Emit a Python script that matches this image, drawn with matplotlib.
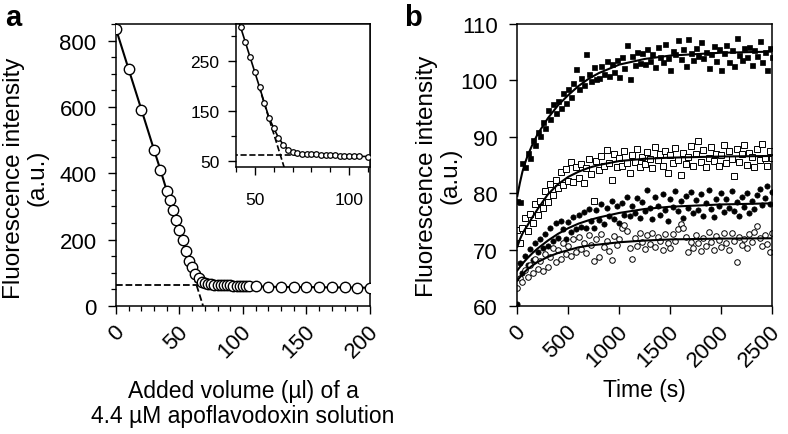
import numpy as np
import matplotlib
matplotlib.use('Agg')
import matplotlib.pyplot as plt
from matplotlib.ticker import MultipleLocator
from matplotlib.transforms import ScaledTranslation

plt.rcParams['font.family'] = ['Liberation Sans', 'DejaVu Sans']

# ---- panel a: titration with apoflavodoxin ----
vol = [0, 10, 20, 30, 35, 40,
       42.5, 45, 47.5, 50, 52.5, 55, 57.5, 60, 62.5, 65, 67.5, 70, 72.5, 75,
       77.5, 80, 82.5, 85, 87.5, 90, 92.5, 95, 97.5, 100, 102.5,
       105, 110, 120, 130, 140, 150, 160, 170, 180, 190, 200]
fluo = [835, 713, 592, 470, 410, 347,
        318, 288, 258, 228, 198, 167, 137, 116, 97, 83, 73, 69, 67, 65,
        64.5, 64, 63.5, 63, 62.5, 62, 61.5, 61, 61, 60.5, 60,
        59.5, 59, 58, 57.5, 57, 57, 56.5, 56, 56, 55.5, 55]
plateau = 62          # baseline level (dashed)
plateau_end = 73      # where the dashed baseline stops

# ---- panel b: kinetics ----
time = np.arange(0, 2501, 25)
s1 = [78.6, 78.4, 85.4, 84.6, 87.1, 86.3, 89.4, 88.6, 90.9, 90.1,
      92.6, 91.5, 94.7, 93.1, 95.8, 94.2, 96.3, 95.1, 97.8, 95.9,
      98.4, 97.1, 99.6, 102.1, 98.5, 100.4, 99.1, 104.6, 101.2, 99.8,
      102.3, 100.2, 100.4, 102.6, 101.1, 103.4, 100.7, 102.9, 101.5, 103.7,
      100.6, 104.1, 102.2, 106.2, 100.3, 104.4, 102.8, 105.1, 103.0, 104.8,
      102.9, 105.6, 103.5, 104.7, 102.4, 105.9, 104.2, 103.3, 106.4, 104.0,
      101.9, 105.2, 104.6, 107.2, 103.8, 105.5, 102.6, 107.4, 104.9, 103.6,
      105.7, 104.3, 106.8, 103.9, 105.1, 102.2, 104.7, 106.1, 103.4, 105.6,
      101.8, 104.9, 106.3, 103.2, 105.4, 102.5, 107.5, 104.5, 103.7, 105.8,
      104.1, 106.0, 102.7, 105.3, 104.4, 106.9, 103.3, 105.0, 101.9, 105.8,
      104.2]
s2 = [73.4, 71.1, 73.9, 75.6, 73.3, 76.3, 74.8, 78.1, 76.2, 78.6,
      77.4, 80.4, 78.5, 81.6, 79.6, 82.4, 80.9, 83.7, 81.5, 84.3,
      82.2, 85.5, 81.9, 84.6, 82.7, 85.1, 81.8, 84.4, 86.0, 83.4,
      78.7, 85.7, 84.1, 86.6, 84.8, 87.6, 85.3, 82.3, 86.9, 84.6,
      86.2, 84.9, 87.4, 85.3, 83.5, 86.8, 85.6, 87.9, 84.7, 86.4,
      85.1, 87.3, 86.0, 84.4, 88.1, 85.8, 86.9, 84.9, 87.5, 83.6,
      86.7, 85.4, 88.0, 85.9, 83.3, 87.1, 85.2, 86.5, 88.4, 84.8,
      86.9, 89.3, 85.5, 87.6, 84.6, 86.3, 88.2, 85.7, 87.0, 84.9,
      86.8, 88.5, 85.3, 87.4, 86.1, 83.1, 87.8, 85.6, 86.9, 88.6,
      85.0, 87.2, 86.4, 84.7, 87.9, 85.8, 88.7, 86.2, 84.9, 87.5,
      86.3]
s3 = [60.3, 67.6, 65.9, 68.8, 67.3, 70.1, 68.2, 71.2, 69.5, 71.9,
      70.2, 72.8, 70.6, 73.9, 71.5, 74.8, 72.1, 75.0, 73.7, 71.9,
      74.9, 73.2, 75.8, 73.6, 76.1, 74.0, 76.6, 73.8, 77.2, 75.1,
      73.9, 77.0, 75.3, 78.1, 74.6, 77.4, 76.0, 78.6, 75.4, 77.7,
      74.8, 78.3, 76.2, 79.4, 75.9, 77.8, 76.5, 79.1, 75.6, 78.4,
      76.9, 80.6, 77.3, 75.4, 79.3, 77.8, 76.2, 79.8, 77.0, 75.1,
      78.9, 77.5, 80.4, 76.8, 78.7, 75.6, 79.5, 77.4, 80.2, 76.5,
      78.8, 77.1, 79.9, 76.0, 78.3, 80.5, 77.2, 75.8, 79.0, 77.7,
      80.1, 76.6, 78.9, 77.3, 80.3, 76.9, 78.5, 75.9, 79.4, 77.6,
      80.0, 76.4, 78.7, 77.2, 79.6, 80.7, 77.9, 79.1, 81.3, 78.0,
      80.2]
s4 = [63.2, 64.9, 64.3, 66.4, 65.2, 67.3, 65.8, 68.4, 66.6, 67.9,
      66.2, 69.3, 66.9, 68.6, 70.2, 67.8, 69.9, 68.4, 71.1, 69.2,
      70.6, 68.9, 71.8, 69.6, 72.3, 70.1, 71.2, 69.4, 72.6, 70.8,
      68.0, 71.9, 68.7, 72.8, 70.5, 71.6, 69.8, 68.1, 72.4, 70.9,
      71.8, 73.9, 74.4, 73.3, 70.2, 68.4, 72.1, 70.7, 72.9, 71.3,
      70.1, 72.5, 71.0, 73.0, 70.4, 72.2, 71.5, 69.9, 72.7, 71.2,
      70.3, 72.8, 71.6, 73.6, 74.5, 73.8, 72.3, 69.6, 71.4, 70.2,
      72.6, 71.1, 69.8, 72.0, 70.6, 73.1, 71.3, 70.0, 72.4, 71.7,
      70.5, 72.9, 71.2, 69.9, 73.0, 71.5, 67.8, 72.2, 70.8, 71.9,
      70.3, 72.7, 71.4, 73.2, 74.1, 72.0, 70.6, 72.5, 71.0, 69.5,
      72.9]

# fitted curves
fit_t = [0, 25, 50, 75, 100, 150, 200, 300, 400, 500, 600, 700, 800,
         1000, 1250, 1500, 2000, 2500]
fit1 = [79.5, 81.8, 83.8, 85.3, 86.6, 88.7, 90.5, 93.3, 95.6, 97.4, 99.0,
        100.3, 101.3, 102.8, 103.8, 104.4, 104.9, 105.1]
fit2 = [70.5, 71.8, 72.8, 73.6, 74.3, 75.8, 77.2, 79.8, 81.6, 82.9, 83.8,
        84.5, 85.0, 85.7, 86.1, 86.3, 86.5, 86.6]
fit3 = [66.3, 66.9, 67.5, 68.0, 68.5, 69.4, 70.2, 71.6, 72.8, 73.8, 74.6,
        75.2, 75.7, 76.5, 77.2, 77.6, 78.0, 78.2]
fit4 = [64.5, 65.1, 65.6, 66.1, 66.5, 67.2, 67.8, 68.7, 69.4, 69.9, 70.4,
        70.7, 70.9, 71.3, 71.6, 71.8, 71.95, 72.0]

# linear extrapolation of the initial drop (dashed)
vol_a = np.array(vol)
fluo_a = np.array(fluo)
lin = vol_a <= 40
slope, icpt = np.polyfit(vol_a[lin], fluo_a[lin], 1)
x_zero = -icpt / slope
x_dash = np.array([(200 - icpt) / slope, x_zero])


def style_ax(ax, lsize, xpad=4, ypad=8):
    for s in ax.spines.values():
        s.set_linewidth(1.1)
    ax.tick_params(which='major', direction='out', length=6, width=1.0,
                   labelsize=lsize)
    ax.tick_params(which='minor', direction='out', length=3.5, width=0.9)
    ax.tick_params(axis='x', which='major', pad=xpad)
    ax.tick_params(axis='y', which='major', pad=ypad)


def rotate_xlabels(ax, dx_px):
    off = ScaledTranslation(dx_px / 100.0, 0, ax.figure.dpi_scale_trans)
    for lab in ax.get_xticklabels():
        lab.set_rotation(45)
        lab.set_ha('right')
        lab.set_va('center')
        lab.set_rotation_mode('anchor')
        lab.set_transform(lab.get_transform() + off)


fig = plt.figure(figsize=(7.88, 4.35), dpi=100)

# ---------------- panel a ----------------
ax = fig.add_axes([0.1472, 0.2943, 0.3223, 0.6483])
ax.plot(vol, fluo, '-', color='black', lw=1.5, zorder=2)
ax.plot(vol, fluo, 'o', ms=7.5, mfc='white', mec='black', mew=1.0, zorder=3)
ax.plot([0, plateau_end], [plateau, plateau], '--', color='black', lw=1.3, zorder=1)
ax.plot(x_dash, slope * x_dash + icpt, '--', color='black', lw=1.3, zorder=1)
ax.set_xlim(0, 200)
ax.set_ylim(0, 850)
ax.xaxis.set_major_locator(MultipleLocator(50))
ax.xaxis.set_minor_locator(MultipleLocator(10))
ax.yaxis.set_major_locator(MultipleLocator(200))
ax.yaxis.set_minor_locator(MultipleLocator(50))
style_ax(ax, 16, xpad=10)
rotate_xlabels(ax, 5)
ax.set_ylabel('Fluorescence intensity\n(a.u.)', fontsize=17.5, linespacing=1.1)
ax.yaxis.set_label_coords(-0.264, 0.457)
ax.set_xlabel('Added volume (\u00b5l) of a\n4.4 \u00b5M apoflavodoxin solution',
              fontsize=16.5, linespacing=1.1)
ax.xaxis.set_label_coords(0.5, -0.259)

# inset
axi = fig.add_axes([0.2995, 0.6138, 0.1700, 0.3287])
axi.plot(vol, fluo, '-', color='black', lw=1.2, zorder=2)
axi.plot(vol, fluo, 'o', ms=4.0, mfc='white', mec='black', mew=0.9, zorder=3)
axi.plot([0, plateau_end], [plateau, plateau], '--', color='black', lw=1.2, zorder=1)
axi.plot(x_dash, slope * x_dash + icpt, '--', color='black', lw=1.2, zorder=1)
axi.set_xlim(40, 111)
axi.set_ylim(38, 325)
axi.xaxis.set_major_locator(MultipleLocator(50))
axi.xaxis.set_minor_locator(MultipleLocator(10))
axi.set_yticks([50, 150, 250])
axi.set_yticks([100, 200, 300], minor=True)
style_ax(axi, 12.5, xpad=12, ypad=6)

# ---------------- panel b ----------------
bx = fig.add_axes([0.6565, 0.2943, 0.3236, 0.6483])
for f in (fit1, fit2, fit3, fit4):
    bx.plot(fit_t, f, '-', color='black', lw=1.5, zorder=3)
bx.plot(time, s1, 's', ms=3.6, mfc='black', mec='black', mew=0.5, zorder=2)
bx.plot(time, s2, 's', ms=3.8, mfc='white', mec='black', mew=0.7, zorder=2)
bx.plot(time, s3, 'o', ms=3.8, mfc='black', mec='black', mew=0.5, zorder=2)
bx.plot(time, s4, 'o', ms=4.0, mfc='white', mec='black', mew=0.7, zorder=2)
bx.set_xlim(0, 2500)
bx.set_ylim(60, 110)
bx.xaxis.set_major_locator(MultipleLocator(500))
bx.yaxis.set_major_locator(MultipleLocator(10))
style_ax(bx, 16, xpad=10)
rotate_xlabels(bx, 5)
bx.set_ylabel('Fluorescence intensity\n(a.u.)', fontsize=17.5, linespacing=1.1)
bx.yaxis.set_label_coords(-0.217, 0.465)
bx.set_xlabel('Time (s)', fontsize=16.5)
bx.xaxis.set_label_coords(0.5, -0.255)

fig.text(0.006, 0.99, 'a', fontsize=21, fontweight='bold', va='top')
fig.text(0.513, 0.99, 'b', fontsize=21, fontweight='bold', va='top')

fig.savefig('out.png', dpi=100)
